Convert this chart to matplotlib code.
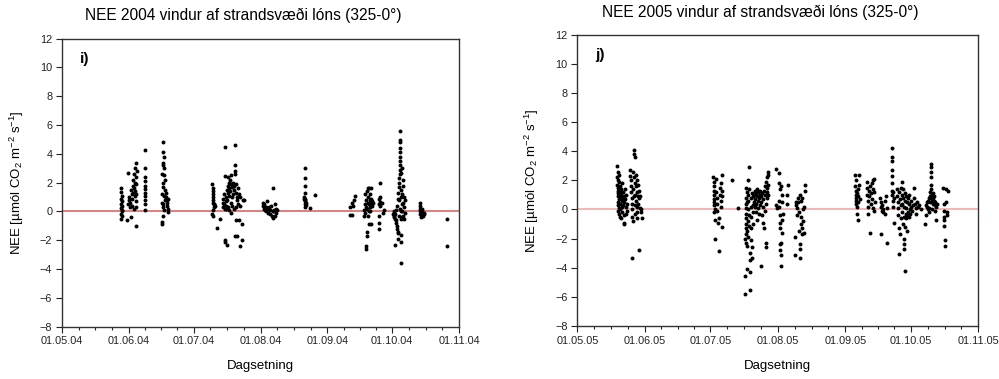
import datetime as dt
import numpy as np
import matplotlib
matplotlib.use("Agg")
import matplotlib.pyplot as plt
import matplotlib.dates as mdates

plt.rcParams['font.family'] = ['Liberation Sans', 'DejaVu Sans']
plt.rcParams['mathtext.fontset'] = 'custom'
plt.rcParams['mathtext.rm'] = 'Liberation Sans'
plt.rcParams['mathtext.it'] = 'Liberation Sans'

# (days after 1 May, NEE)
pts_2004 = [
    (27.5, 1.64), (27.5, 1.37), (27.6, 1.1), (27.5, 0.9), (27.7, 0.7), (27.5, 0.55), (27.6, 0.4),
    (27.5, 0.25), (27.7, 0.1), (27.6, 0.0), (27.5, -0.15), (27.7, -0.3), (27.5, -0.55),
    (30.5, 2.7), (30.3, -0.6), (30.8, 0.5), (31, 0.8), (31.2, 1.0), (31.5, 0.6), (31.6, 0.3),
    (31.8, 1.5), (32, -0.4), (32.2, 1.2), (32.4, 0.4), (32.6, 0.9), (32.8, 1.8), (33, 2.2),
    (33.2, 1.6), (33.3, 0.2), (33.5, 2.6), (33.6, 1.1), (33.8, 2.0), (33.9, 3.0), (34.0, 1.4),
    (34.1, -1.0), (34.2, 2.4), (34.3, 0.7), (34.5, 3.35), (34.5, 1.9), (34.6, 2.8), (34.4, 1.2),
    (34.2, 0.3), (32.9, 1.3),
    (38.6, 4.3), (38.6, 3.0), (38.6, 2.4), (38.6, 2.1), (38.6, 1.8), (38.6, 1.55), (38.6, 1.3),
    (38.6, 1.05), (38.6, 0.8), (38.6, 0.5), (38.6, 0.1),
    (47, 4.8), (47, 4.15), (47.1, 3.8), (47, 3.4), (46.8, 3.2), (47.2, 3.0), (46.5, 2.6),
    (47.3, 2.5), (47.5, 2.2), (47, 2.0), (46.8, 1.7), (47.5, 1.5), (48, 1.3), (46.3, 1.2),
    (47.2, 1.1), (48.3, 1.0), (47.8, 0.8), (46.5, 0.6), (48.5, 0.6), (47, 0.5), (48.7, 0.4),
    (49, 0.2), (49.3, -0.05), (47.1, 0.1), (46.6, -0.3), (46.4, -0.7), (46.2, -0.9), (48.6, 0.8),
    (49.2, 0.9), (46.9, 0.3),
    (69.7, 1.9), (69.8, 1.6), (69.9, 1.4), (69.8, 1.2), (70, 1.0), (69.9, 0.8), (70, 0.6),
    (70.2, 0.5), (70.4, 0.5), (69.6, -0.2), (69.8, -0.3), (70.5, 0.3), (71, 0.4), (71.6, -1.15),
    (73.2, -0.5), (70.1, 0.1),
    (74.5, 0.3), (74.7, 0.6), (74.8, 0.9), (75, 0.5), (75.1, 1.2), (75.3, 0.2), (75.4, 2.45),
    (75.5, 4.5), (75.3, -2.0), (75.5, -2.1), (75.8, 0.7), (76, 1.0), (76.2, 0.4), (76.3, 1.5),
    (76.5, 0.8), (76.6, -2.35), (76.7, 1.3), (76.9, 2.4), (77, 1.8), (77.2, 0.1), (77.3, 2.0),
    (77.5, 1.1), (77.6, 1.6), (77.8, 2.2), (78, 1.4), (78.1, 0.6), (78.3, 1.9), (78.5, 2.5),
    (78.6, 1.0), (78.8, 0.4), (79, 1.7), (79.2, 1.2), (79.4, 2.0), (79.6, 1.5), (79.8, 1.8),
    (80, 2.6), (80.1, 3.2), (80.2, 4.6), (80.3, 2.8), (80.4, 1.9), (80.5, 1.3), (80.6, 0.3),
    (80.5, -0.6), (80.1, -1.7), (81, -1.7), (81, 1.0), (81.3, 0.8), (81.5, 1.6), (81.7, 0.5),
    (82, 1.2), (82.2, -0.6), (82.5, 0.4), (82.6, 1.0), (82.7, -2.4), (83.2, -0.9), (83.4, -2.0),
    (84.5, 0.8), (83.8, 0.8), (79.5, 0.2), (78.2, -0.1), (77, 0.3), (76, 0.2),
    (93, 0.6), (93.2, 0.4), (93.4, 0.2), (93.6, 0.5), (94, 0.1), (94.3, 0.3), (94.6, 0.0),
    (95, 0.7), (95.3, 0.2), (95.6, -0.1), (96, 0.3), (96.3, 0.1), (96.6, -0.2), (97, 0.4),
    (97.3, -0.3), (97.6, 0.0), (97.9, 1.6), (98, -0.45), (98.3, 0.1), (98.6, -0.3), (99, 0.2),
    (99.3, -0.1), (99.6, 0.1), (98.8, 0.5), (97.8, 0.05),
    (112.5, 3.0), (112.6, 2.3), (112.6, 1.75), (112.5, 1.3), (112.3, 1.0), (112.7, 0.9),
    (112.4, 0.8), (112.8, 0.7), (112.6, 0.55), (112.9, 0.45), (112.7, 0.3), (114.8, 0.25),
    (117.2, 1.15), (112.2, 0.85), (113, 0.6),
    (133.3, -0.25), (133.5, 0.3), (134.5, 0.6), (134.2, -0.25), (135.1, 0.8), (135.7, 1.1),
    (134.8, 0.4),
    (139.8, -0.3), (140, 0.1), (140.3, 0.5), (140.4, 1.2), (140.6, -0.1), (140.7, 0.3),
    (140.9, -2.6), (141.1, -2.4), (141.2, -1.7), (141.3, -1.45), (141, 0.8), (141.3, 0.2),
    (141.5, 1.4), (141.7, 0.6), (141.8, 1.6), (142, 1.0), (142.1, 0.0), (142.2, -0.85),
    (142.4, 1.6), (142.5, 0.5), (142.6, 0.8), (142.7, 1.2), (142.9, 0.3), (143, 1.6),
    (143.1, 0.6), (143.2, -0.85), (143.4, 0.9), (143.6, 0.4), (143.8, 0.7), (144, 0.6),
    (141.6, -0.3), (142.8, 0.05),
    (147.3, 2.0), (147.4, 1.0), (147.1, 0.9), (146.9, 0.5), (147.2, 0.4), (147.0, -0.3),
    (146.9, -0.8), (147, -1.2), (148.2, 0.6), (148.8, -0.1), (149, 0.1), (147.5, 0.65),
    (153.5, -0.2), (153.7, -0.1), (153.8, -0.3), (154, -0.4), (154, 0.0), (154.2, -0.2),
    (154.3, -2.35), (154.5, -0.5), (154.7, 0.1), (154.8, -0.6), (155, -0.8), (155.2, -1.0),
    (155.4, -1.2), (155.5, -1.5), (155.6, -1.9), (155.4, 0.4), (155.6, 0.9), (155.8, 1.3),
    (156, 1.7), (156, 0.8), (156.2, -0.3), (156.3, 2.0), (156.4, 2.3), (156.5, 2.6),
    (156.5, 2.9), (156.6, 3.2), (156.6, 3.5), (156.7, 3.8), (156.6, 4.1), (156.7, 4.4),
    (156.7, 4.8), (156.6, 4.95), (156.7, 5.6), (156.8, 0.2), (156.9, -0.5), (157, 1.0),
    (157.2, 1.5), (157, -3.6), (157.1, -2.1), (157.3, -1.6), (157.4, 0.5), (157.5, 1.2),
    (157.6, -0.4), (157.7, 0.0), (157.8, 1.8), (157.9, 2.2), (158, 0.6), (158.2, -0.3),
    (158.4, 1.0), (158.5, 0.3), (158.6, -0.5), (158.8, 0.8), (158.9, -0.1), (157.2, 2.7),
    (157.4, 3.0), (155.9, -1.4), (157, 0.0),
    (165.7, 0.6), (165.8, 0.4), (166, 0.2), (166.1, 0.0), (166.3, -0.1), (166.5, -0.2),
    (166.6, 0.1), (166.8, -0.3), (167, 0.0), (167.2, -0.15), (167.4, -0.3), (167.6, -0.1),
    (166.2, -0.35), (165.9, -0.2), (167.8, -0.2), (166.9, 0.2),
    (178.6, -0.55), (178.6, -2.4),
]

pts_2005 = [
    (18.4, 3.0), (18.5, 2.6), (18.3, 2.2), (18.6, 2.0), (18.4, 1.7), (18.7, 1.5), (18.5, 1.3),
    (18.8, 1.1), (18.6, 0.9), (18.9, 0.7), (18.5, 0.5), (18.7, 0.3), (18.9, 0.1), (18.6, -0.1),
    (19, -0.3), (19.2, 2.4), (19.3, 1.9), (19.4, 1.6), (19.5, 1.2), (19.6, 0.8), (19.7, 0.4),
    (19.8, 0.0), (19.5, -0.5), (19.9, -0.6), (20, 1.4), (20.1, 1.0), (20.3, 0.6), (20.4, 0.2),
    (20.5, -0.2), (20.6, 1.8), (20.8, 1.2), (20.9, 0.8), (21, 0.3), (21.2, -0.4), (21.3, -1.0),
    (21.5, -0.9), (21.4, 0.9), (21.6, 0.5), (21.8, 1.4), (22, 0.7), (22.2, 0.2), (22.3, -0.3),
    (22.5, 1.0), (22.7, 0.4), (22.9, -0.1),
    (24.2, 2.7), (24.4, 2.3), (24.5, 2.0), (24.6, 1.6), (24.8, 1.2), (24.9, 0.8), (25, 0.4),
    (25.1, 0.0), (25.2, -0.5), (25.2, -3.3), (25.5, 2.6), (25.6, 1.4), (25.8, 0.9), (26, 3.8),
    (26, 2.2), (26.2, 4.1), (26.3, 3.6), (26.3, 1.8), (26.4, 1.0), (26.5, 0.3), (26.6, -0.3),
    (26.8, 2.4), (26.9, 1.6), (27, 0.6), (27.2, 2.0), (27.3, 1.2), (27.4, 0.2), (27.5, -0.2),
    (27.7, 1.7), (27.8, 0.9), (28, 0.4), (28.1, 1.3), (28.3, 0.8), (28.2, -2.75), (28.7, 0.9),
    (28.9, 0.1), (29.3, -0.2), (29.5, -0.55), (29.4, 0.0), (25.4, -0.8), (27.6, -0.6),
    (62.4, 2.2), (62.5, 1.9), (62.6, 1.6), (62.5, 1.3), (62.7, 1.0), (62.6, 0.7), (62.8, 0.5),
    (62.9, 0.3), (63, 0.0), (62.7, -0.2), (63.3, -0.7), (63, -2.0), (63.5, 2.1), (63.7, 1.2),
    (64, 0.8), (64.2, 0.4), (64.3, -0.1), (64.5, -0.9), (64.8, -0.6), (65, -2.85), (65.3, 1.5),
    (65.5, 1.0), (65.7, 0.6), (65.9, 0.2), (66, 1.8), (66.3, 2.4), (66.2, 1.3), (66.4, -1.2),
    (66.5, 0.9), (71.1, 2.0), (73.7, 0.1),
    (77, -5.8), (77.1, -4.6), (77.2, -2.3), (77.1, -2.0), (77.3, -1.7), (77.2, -1.3),
    (77.4, -1.0), (77.3, -0.6), (77.5, -0.3), (77.4, 0.1), (77.6, 0.4), (77.5, 0.8), (77.7, 1.2),
    (77.6, 1.5), (77.8, -4.1), (78, -2.5), (78, -1.5), (78.1, -0.8), (78.2, 0.0), (78.3, 0.6),
    (78.4, 1.0), (78.5, 2.0), (78.6, 2.9), (78.7, 1.4), (78.8, -0.4), (78.9, -1.1), (79.1, -4.3),
    (79.2, -5.55), (79.3, -3.5), (79.4, -3.0), (79.5, -2.1), (79.6, -1.3), (79.7, -0.5),
    (79.8, 0.2), (79.9, 0.8), (80, 1.1), (80.2, -3.3), (80.3, -2.6), (80.4, -1.0), (80.5, 0.3),
    (80.6, 0.9), (80.7, -0.2), (78.2, -1.9), (77.9, 0.5),
    (81, 0.5), (81.2, 1.0), (81.4, 0.2), (81.5, 1.3), (81.7, 0.7), (81.9, -0.2), (82, 1.1),
    (82.2, 0.4), (82.4, 0.9), (82.5, 1.4), (82.6, -0.7), (82.8, 0.6), (83, 1.2), (83.1, 0.1),
    (83.3, -0.3), (83.5, 0.8), (83.6, 1.0), (83.8, 0.3), (84, 1.3), (84.2, -3.9), (84.3, 0.5),
    (84.5, 0.9), (84.7, -0.4), (84.9, 1.1), (85, 0.2), (85.2, -0.9), (85.4, 0.7), (85.6, 1.3),
    (85.8, -1.3), (86, -0.1), (86, 1.0), (86.2, 1.6), (86.4, 1.9), (86.5, -2.6), (86.7, -2.3),
    (86.8, 0.4), (87, 2.2), (87.2, 1.5), (87.3, 2.6), (87.4, 1.0), (87.5, 2.4), (87.6, 1.7),
    (86.9, 1.2), (87.1, 0.8),
    (91.2, 2.75), (91.3, 0.3), (91.5, 0.1), (92.6, 2.5), (92.4, 1.8), (92.8, 1.4), (92.5, 0.6),
    (92.7, 0.2), (92.9, -0.4), (93, -0.9), (93.1, -1.3), (92.9, -2.4), (93.1, -2.8),
    (93.3, -3.1), (93.4, -3.85), (93.5, -2.3), (93.5, 1.6), (93.7, 1.0), (93.8, 0.5),
    (94, -0.7), (94.1, -1.6), (94.3, -0.3), (96.7, 1.7), (96, 1.0), (96.2, 0.4),
    (99.9, -1.9), (100, -3.1), (100.3, 0.5), (100.5, 0.3), (100.8, -0.4), (101, 0.1),
    (101.2, 0.8), (101.4, 0.5), (101.6, -1.5), (101.8, -0.2), (102, 1.0), (102.1, -2.4),
    (102.2, -2.7), (102.4, -3.35), (102.5, -1.0), (102.6, -0.5), (102.8, 0.6), (103, 0.8),
    (103, -1.7), (103.3, -1.3), (103.5, -0.8), (103.8, -1.6), (104, 0.2), (104.3, 1.3),
    (104.5, 1.65), (103.6, 0.0),
    (127.5, 2.35), (127.7, 2.0), (127.6, 1.6), (127.8, 1.3), (127.7, 1.0), (127.9, 0.8),
    (128, 0.6), (128.1, 0.4), (128.2, 1.1), (128.3, 0.2), (128.4, -0.3), (128.6, -0.7),
    (128.7, 0.9), (128.9, 1.4), (129, 0.5), (129.2, 2.35), (129.3, 1.7), (129.5, 0.7),
    (132.8, 1.9), (133, 1.5), (133.1, 1.0), (133.3, 0.6), (133.4, 0.2), (133.5, -0.3),
    (133.7, 1.3), (134, 0.9), (134.3, 1.6), (134.5, -1.6), (134.6, 0.4), (134.8, 1.1),
    (135, 1.8), (135.3, 0.7), (135.5, 0.1), (135.7, 2.0), (135.9, 1.4), (136.1, 2.1),
    (136.3, 1.2), (136.5, 0.5), (136.3, -0.1),
    (139, 0.8), (139.2, 0.5), (139.4, 0.2), (139.6, -0.1), (139.2, -1.7), (139.9, 0.3),
    (140.2, 0.0), (140.4, -0.2), (141, -0.3), (141.3, 0.6), (141.6, 0.9), (141.9, -2.3),
    (142, 0.1),
    (144.3, 4.25), (144.4, 3.6), (144.2, 3.3), (144.4, 2.7), (144.3, 2.3), (144.5, 1.8),
    (144.4, 1.3), (144.6, 1.0), (144.7, 0.6), (144.8, 0.2), (145, 1.2), (145.2, -0.9),
    (145.4, 0.8),
    (146.6, 1.4), (146.8, 0.9), (147, 0.5), (147.2, 0.1), (147.3, -0.4), (147.5, -1.3),
    (147.7, 1.2), (147.8, -3.05), (148, 0.7), (148.2, -1.7), (148.3, 0.3), (148.5, -0.6),
    (148.7, 1.5), (148.8, 1.0), (149, 1.9), (149.1, 0.4), (149.2, -0.2), (149.4, 0.8),
    (149.5, 1.4), (149.6, -1.0), (149.8, 0.2), (149.9, -2.0), (150, -2.4), (150, -2.7),
    (150.1, -0.5), (150.2, 0.6), (150.3, 1.1), (150.4, -4.2), (150.5, -1.2), (150.6, -0.3),
    (150.8, 0.9), (150.9, -0.6), (151, 0.1), (151.2, 0.5), (151.3, -0.4), (151.5, -1.5),
    (151.6, 0.8), (151.8, -0.2), (152, 0.4), (152.2, -0.5), (152.4, 1.0), (152.6, 0.0),
    (152.8, -0.3), (153, 0.6), (153.3, 0.2), (153.6, -0.1), (153.9, 0.3),
    (154.3, 1.5), (154.6, 0.8), (154.9, 0.4), (155.2, 0.1), (155.5, -0.3), (156, 0.5),
    (156.5, 0.2), (157, 0.3), (157.5, 0.0),
    (159.5, -1.0), (159.8, 0.3), (160, -0.4), (160.3, 0.5), (160.6, 0.2), (161, 0.6),
    (161.3, 0.8), (161.6, 0.5), (161.8, 1.2), (162, 0.9), (162.2, 1.7), (162.3, 2.2),
    (162.4, 2.6), (162.4, 2.9), (162.5, 3.15), (162.5, 1.4), (162.6, 1.0), (162.7, 0.7),
    (162.8, 0.5), (163, 1.1), (163.2, 0.8), (163.3, 0.4), (163.5, 0.6), (163.7, 0.9),
    (163.9, 0.3), (164.1, 0.5), (164.3, -0.1), (164.5, -0.7), (164.8, 0.2), (165.2, 0.4),
    (160.9, 0.0), (161.5, 0.1), (162.9, 0.0), (161.2, -0.2),
    (168, 1.5), (168.2, 0.4), (168.4, -0.1), (168.1, -0.5), (168.3, -0.7), (168.2, -1.1),
    (168.5, -2.1), (168.6, -2.5), (169, 1.4), (169.3, 0.5), (169.5, -0.2), (169.8, -0.4),
    (170, 1.3),
]

titles = ["NEE 2004 vindur af strandsvæði lóns (325-0°)",
          "NEE 2005 vindur af strandsvæði lóns (325-0°)"]
panel_labels = ["i)", "j)"]
years = [2004, 2005]
zero_colors = ["#d85a5a", "#f2a0a0"]

fig = plt.figure(figsize=(9.99, 3.79), dpi=100)
axes_rects = [[0.0621, 0.138, 0.3974, 0.760], [0.5779, 0.1398, 0.4014, 0.7686]]
title_x = [243 / 999, 760 / 999]
title_y = [1 - 15 / 379, 1 - 12 / 379]

for k, pts in enumerate([pts_2004, pts_2005]):
    ax = fig.add_axes(axes_rects[k])
    start = dt.datetime(years[k], 5, 1)
    end = dt.datetime(years[k], 11, 1)
    d = np.array([p[0] for p in pts])
    v = np.array([p[1] for p in pts])
    x = [start + dt.timedelta(days=float(t)) for t in d]
    ax.axhline(0, color=zero_colors[k], lw=1.1, zorder=1)
    ax.scatter(x, v, s=8, c='black', marker='o', linewidths=0, zorder=2)

    ax.set_xlim(start, end)
    ax.set_ylim(-8, 12)
    ax.set_yticks(np.arange(-8, 13, 2))
    months = [dt.datetime(years[k], m, 1) for m in range(5, 12)]
    ax.set_xticks(months)
    ax.set_xticklabels([m.strftime('%d.%m.%y') for m in months])
    mnums = mdates.date2num(months)
    minor = []
    for a, b in zip(mnums[:-1], mnums[1:]):
        minor += [a + (b - a) * f for f in (0.25, 0.5, 0.75)]
    ax.set_xticks(minor, minor=True)

    ax.tick_params(axis='both', which='major', direction='out', length=4, width=0.8,
                   labelsize=7.8, colors='#222222', pad=3)
    ax.tick_params(axis='x', which='minor', direction='out', length=2.5, width=0.8,
                   colors='#222222')
    for s in ax.spines.values():
        s.set_color('#333333')
        s.set_linewidth(1)

    ax.set_xlabel('Dagsetning', fontsize=9.5, labelpad=10)
    ax.set_ylabel(r'NEE [µmól CO$_2$ m$^{-2}$ s$^{-1}$]', fontsize=9.5, labelpad=10)
    ax.text(0.045, 0.93, panel_labels[k], transform=ax.transAxes, fontsize=11,
            fontweight='bold', va='center', ha='left')
    fig.text(title_x[k], title_y[k], titles[k], ha='center', va='center', fontsize=11.2)

fig.savefig('out.png', dpi=100)
